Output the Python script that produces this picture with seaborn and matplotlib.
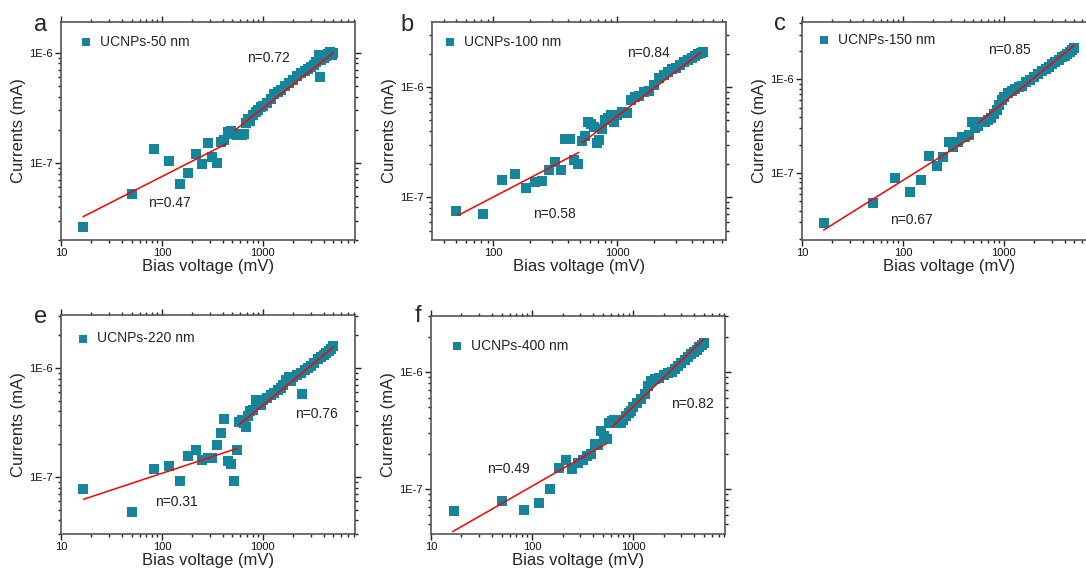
import numpy as np
import seaborn as sns
import matplotlib.pyplot as plt
from matplotlib.ticker import LogLocator, FuncFormatter, NullFormatter

# ---- data (bias voltage in mV, current in mA) ----
labels = ["UCNPs-50 nm", "UCNPs-100 nm", "UCNPs-150 nm", "UCNPs-220 nm", "UCNPs-400 nm"]
letters = ["a", "b", "c", "e", "f"]

v_a = [16.7, 50, 83.3, 116.7, 150, 183.3, 216.7, 250, 283.3, 316.7, 350, 383.3, 416.7, 450,
       483, 517, 550, 583, 617, 650, 683, 717, 750, 800, 850, 900, 950, 1000, 1100, 1200,
       1300, 1400, 1500, 1650, 1800, 2000, 2200, 2400, 2600, 2800, 3000, 3200, 3400, 3600,
       3700, 3800, 4000, 4200, 4400, 4600, 4800, 5000]
i_a = [2.6e-8, 5.2e-8, 1.33e-7, 1.04e-7, 6.4e-8, 8.1e-8, 1.21e-7, 9.7e-8, 1.53e-7, 1.14e-7,
       1.0e-7, 1.56e-7, 1.6e-7, 1.9e-7, 1.95e-7, 1.85e-7, 1.8e-7, 1.85e-7, 1.8e-7, 1.85e-7,
       2.3e-7, 2.5e-7, 2.4e-7, 2.7e-7, 2.9e-7, 3.0e-7, 3.2e-7, 3.3e-7, 3.5e-7, 3.8e-7,
       4.2e-7, 4.4e-7, 4.6e-7, 5.0e-7, 5.3e-7, 5.7e-7, 6.1e-7, 6.5e-7, 6.8e-7, 7.1e-7,
       7.4e-7, 7.8e-7, 8.2e-7, 9.5e-7, 6.0e-7, 8.6e-7, 9.0e-7, 9.3e-7, 9.8e-7, 1.02e-6,
       9.6e-7, 1.0e-6]

v_b = [50, 83.3, 116.7, 150, 183.3, 216.7, 250, 283.3, 316.7, 350, 383.3, 416.7, 450, 483.3,
       516.7, 550, 583, 617, 650, 683, 717, 750, 800, 850, 900, 950, 1000, 1100, 1200, 1300,
       1400, 1500, 1650, 1800, 2000, 2200, 2400, 2600, 2800, 3000, 3250, 3500, 3750, 4000,
       4250, 4500, 4750, 5000]
i_b = [7.5e-8, 7.0e-8, 1.45e-7, 1.62e-7, 1.22e-7, 1.38e-7, 1.40e-7, 1.76e-7, 2.1e-7, 1.76e-7,
       3.35e-7, 3.35e-7, 2.2e-7, 2.02e-7, 3.25e-7, 3.6e-7, 4.84e-7, 4.6e-7, 4.35e-7, 3.1e-7,
       3.3e-7, 4.2e-7, 5.0e-7, 5.3e-7, 5.56e-7, 4.8e-7, 5.6e-7, 6.0e-7, 5.8e-7, 7.6e-7,
       8.1e-7, 8.3e-7, 9.06e-7, 9.3e-7, 1.04e-6, 1.2e-6, 1.3e-6, 1.38e-6, 1.45e-6, 1.5e-6,
       1.6e-6, 1.7e-6, 1.76e-6, 1.85e-6, 1.9e-6, 1.98e-6, 2.05e-6, 2.1e-6]

v_c = [16.7, 50, 83.3, 116.7, 150, 183.3, 216.7, 250, 283.3, 316.7, 350, 383.3, 416.7, 450,
       483.3, 516.7, 550, 600, 650, 700, 750, 800, 850, 900, 950, 1000, 1100, 1200, 1300,
       1400, 1500, 1650, 1800, 2000, 2200, 2400, 2600, 2800, 3000, 3250, 3500, 3750, 4000,
       4250, 4500, 4750, 5000]
i_c = [2.92e-8, 4.76e-8, 8.9e-8, 6.3e-8, 8.4e-8, 1.52e-7, 1.19e-7, 1.49e-7, 2.15e-7, 1.9e-7,
       2.15e-7, 2.43e-7, 2.43e-7, 2.54e-7, 3.5e-7, 3.0e-7, 3.2e-7, 3.5e-7, 3.5e-7, 3.7e-7,
       3.9e-7, 4.3e-7, 4.7e-7, 5.4e-7, 6.0e-7, 6.5e-7, 7.1e-7, 7.5e-7, 8.0e-7, 8.3e-7,
       8.6e-7, 9.3e-7, 9.8e-7, 1.07e-6, 1.15e-6, 1.22e-6, 1.3e-6, 1.37e-6, 1.45e-6, 1.55e-6,
       1.63e-6, 1.72e-6, 1.8e-6, 1.88e-6, 1.97e-6, 2.05e-6, 2.15e-6]

v_e = [16.7, 50, 83.3, 116.7, 150, 183.3, 216.7, 250, 283.3, 316.7, 350, 383.3, 416.7, 450,
       483.3, 516.7, 550, 583, 617, 650, 683, 717, 750, 800, 850, 900, 950, 1000, 1100, 1200,
       1300, 1400, 1500, 1600, 1700, 1800, 1900, 2000, 2200, 2400, 2450, 2600, 2800, 3000,
       3250, 3500, 3750, 4000, 4250, 4500, 4750, 5000]
i_e = [7.76e-8, 4.74e-8, 1.18e-7, 1.26e-7, 9.2e-8, 1.56e-7, 1.77e-7, 1.43e-7, 1.48e-7, 1.48e-7,
       1.97e-7, 2.52e-7, 3.4e-7, 1.41e-7, 1.31e-7, 9.25e-8, 1.77e-7, 3.2e-7, 3.3e-7, 3.1e-7,
       2.9e-7, 3.6e-7, 4.0e-7, 4.1e-7, 5.1e-7, 4.6e-7, 4.57e-7, 5.1e-7, 5.3e-7, 5.6e-7,
       5.9e-7, 6.3e-7, 6.5e-7, 7.0e-7, 7.76e-7, 8.3e-7, 7.6e-7, 8.2e-7, 8.7e-7, 8.93e-7,
       5.77e-7, 9.5e-7, 1.0e-6, 1.04e-6, 1.1e-6, 1.2e-6, 1.27e-6, 1.32e-6, 1.36e-6, 1.42e-6,
       1.5e-6, 1.58e-6]

v_f = [16.7, 50, 83.3, 116.7, 150, 183.3, 216.7, 250, 283.3, 316.7, 350, 383.3, 416.7, 450,
       483.3, 516.7, 550, 583, 617, 650, 683, 717, 750, 800, 850, 900, 950, 1000, 1100, 1200,
       1300, 1400, 1500, 1650, 1800, 2000, 2200, 2400, 2600, 2800, 3000, 3250, 3500, 3750,
       4000, 4250, 4500, 4750, 5000]
i_f = [6.5e-8, 7.8e-8, 6.6e-8, 7.6e-8, 1.0e-7, 1.5e-7, 1.77e-7, 1.48e-7, 1.66e-7, 1.77e-7,
       1.89e-7, 1.98e-7, 2.43e-7, 2.38e-7, 3.13e-7, 2.8e-7, 2.67e-7, 3.65e-7, 3.8e-7, 3.89e-7,
       3.7e-7, 3.65e-7, 3.65e-7, 3.9e-7, 4.15e-7, 4.4e-7, 4.58e-7, 5.0e-7, 5.4e-7, 5.9e-7,
       6.4e-7, 7.5e-7, 8.3e-7, 8.6e-7, 8.8e-7, 9.4e-7, 9.7e-7, 1.0e-6, 1.06e-6, 1.11e-6,
       1.18e-6, 1.27e-6, 1.35e-6, 1.42e-6, 1.48e-6, 1.54e-6, 1.62e-6, 1.7e-6, 1.76e-6]

# fitted power-law segments: ((x0, y0), (x1, y1)) for low and high voltage
fits = [
    [((16.5, 3.25e-8), (433, 1.49e-7)), ((524, 1.97e-7), (5000, 1.0e-6))],
    [((52, 6.86e-8), (490, 2.55e-7)), ((521, 3.12e-7), (4780, 2.07e-6))],
    [((16.4, 2.48e-8), (485, 2.43e-7)), ((557, 3.43e-7), (4970, 2.3e-6))],
    [((16.7, 6.24e-8), (556, 1.83e-7)), ((580, 3.0e-7), (5000, 1.55e-6))],
    [((16.4, 4.3e-8), (556, 2.46e-7)), ((620, 3.4e-7), (5000, 1.9e-6))],
]
# slope labels: (text, x, y)
n_labels = [
    [("n=0.47", 73.6, 4.3e-8), ("n=0.72", 695, 9.0e-7)],
    [("n=0.58", 208, 7.1e-8), ("n=0.84", 1205, 2.02e-6)],
    [("n=0.67", 74.8, 3.2e-8), ("n=0.85", 700, 2.04e-6)],
    [("n=0.31", 85.4, 5.9e-8), ("n=0.76", 2110, 3.76e-7)],
    [("n=0.49", 35.6, 1.47e-7), ("n=0.82", 2360, 5.3e-7)],
]
xlims = [(10, 8200), (32, 7600), (10, 8200), (10, 8200), (10, 8100)]
ylims = [(2.0e-8, 1.9e-6), (4.1e-8, 3.9e-6), (1.94e-8, 4.1e-6), (3.0e-8, 3.06e-6), (4.1e-8, 3.0e-6)]

volts = [v_a, v_b, v_c, v_e, v_f]
currents = [i_a, i_b, i_c, i_e, i_f]

# ---- layout (pixels in a 1086x576 canvas) ----
W, H = 1086, 576
boxes = [(61, 22, 294, 218), (432, 22, 294, 218), (802, 22, 294, 218),
         (61, 315, 294, 219), (431, 316, 294, 218)]
legend_anchor = [(0.06, 0.94), (0.037, 0.94), (0.05, 0.95), (0.05, 0.925), (0.064, 0.895)]
letter_pos = [(34, 31), (400, 31), (774, 30), (34, 323), (415, 322)]

sns.set_theme(style="ticks")
plt.rcParams["font.family"] = ["Liberation Sans", "DejaVu Sans"]

teal = "#14859b"
fig = plt.figure(figsize=(W / 100, H / 100), dpi=100)

for k in range(5):
    x, y, w, h = boxes[k]
    ax = fig.add_axes([x / W, 1 - (y + h) / H, w / W, h / H])
    ax.set_xscale("log")
    ax.set_yscale("log")

    sns.scatterplot(x=volts[k], y=currents[k], marker="s", s=60, color=teal,
                    linewidth=0, ax=ax, label=labels[k], zorder=2)
    for (p0, p1) in fits[k]:
        sns.lineplot(x=[p0[0], p1[0]], y=[p0[1], p1[1]], color="red", lw=1.1,
                     ax=ax, zorder=3, legend=False)
    for txt, tx, ty in n_labels[k]:
        ax.text(tx, ty, txt, fontsize=10, ha="left", va="center", color="#222222")

    ax.set_xlim(*xlims[k])
    ax.set_ylim(*ylims[k])

    ax.xaxis.set_major_locator(LogLocator(base=10, numticks=20))
    ax.xaxis.set_minor_locator(LogLocator(base=10, subs=np.arange(2, 10), numticks=20))
    ax.yaxis.set_major_locator(LogLocator(base=10, numticks=20))
    ax.yaxis.set_minor_locator(LogLocator(base=10, subs=np.arange(2, 10), numticks=20))
    ax.xaxis.set_major_formatter(FuncFormatter(lambda v, p: f"{v:g}"))
    ax.yaxis.set_major_formatter(
        FuncFormatter(lambda v, p: f"1E{int(round(np.log10(v)))}"))
    ax.xaxis.set_minor_formatter(NullFormatter())
    ax.yaxis.set_minor_formatter(NullFormatter())

    ax.tick_params(which="both", direction="out", left=True, bottom=True,
                   top=True, right=True, labeltop=False, labelright=False,
                   colors="#222222", labelcolor="#111111", labelsize=8, width=1.0)
    ax.tick_params(which="major", length=4.5, pad=1.5)
    ax.tick_params(which="minor", length=2.5)
    for sp in ax.spines.values():
        sp.set_color("#555555")
        sp.set_linewidth(1.2)

    ax.set_xlabel("Bias voltage (mV)", fontsize=12, labelpad=0.5)
    ax.set_ylabel("Currents (mA)", fontsize=12, labelpad=2.5)

    ax.legend(loc="upper left", bbox_to_anchor=legend_anchor[k], frameon=False,
              fontsize=10, borderaxespad=0, borderpad=0, handlelength=1.0,
              handletextpad=0.55, markerscale=0.8)

    lx, ly = letter_pos[k]
    fig.text(lx / W, 1 - ly / H, letters[k], fontsize=17, va="baseline", ha="left")

fig.savefig("out.png", dpi=100)
